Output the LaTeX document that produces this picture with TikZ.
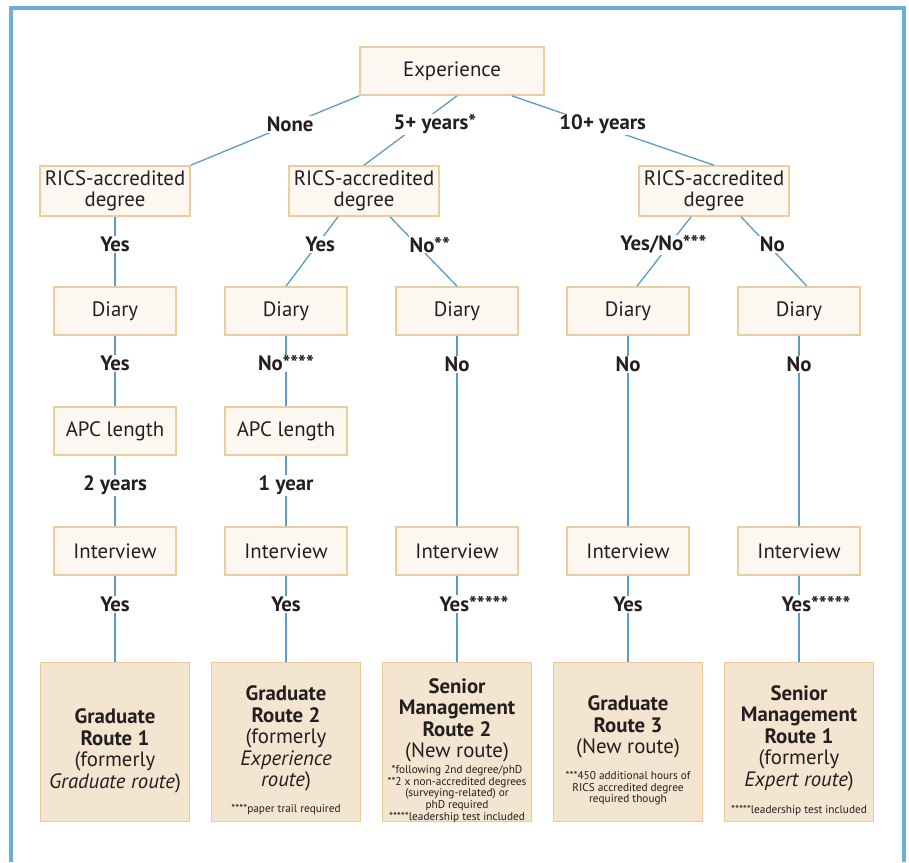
\documentclass[tikz,border=0pt]{standalone}
\usepackage{fontspec}
\setmainfont{PT Sans}
\usetikzlibrary{positioning}

\definecolor{frameblue}{HTML}{6BAED6}
\definecolor{linkblue}{HTML}{5B9CC4}
\definecolor{boxfill}{HTML}{FCF7F0}
\definecolor{boxedge}{HTML}{EACF9D}
\definecolor{routefill}{HTML}{F3E5CF}
\definecolor{routeedge}{HTML}{E9CC95}
\definecolor{ink}{HTML}{231F20}

\newcommand{\notes}[1]{{\fontsize{11.3}{11.6}\selectfont\begin{tabular}[t]{@{}c@{}}#1\end{tabular}}}

\tikzset{
  box/.style={draw=boxedge, fill=boxfill, line width=1.6pt, minimum width=122pt,
    minimum height=48pt, align=center, text=ink, font=\fontsize{20.8}{21.5}\selectfont, inner sep=2pt},
  rics/.style={box, minimum width=150pt, minimum height=50pt},
  route/.style={draw=routeedge, fill=routefill, line width=1.6pt, minimum width=149pt,
    minimum height=159pt},
  routetext/.style={align=center, text=ink, font=\fontsize{20.8}{21.5}\selectfont, inner sep=0pt},
  lab/.style={fill=white, text=ink, font=\bfseries\fontsize{20.8}{21.5}\selectfont, inner sep=1pt},
  link/.style={draw=linkblue, line width=1.3pt}
}

\begin{document}
\begin{tikzpicture}[x=1pt, y=1pt, on grid, node distance=120pt and 171pt]
\useasboundingbox (0,0) rectangle (909,-862);
% frame, open at the bottom
\draw[frameblue, line width=3.5pt] (11,-862) |- (904,-8) -- (904,-862);

% diaries
\node[box] (diary1) at (115,-311) {Diary};
\node[box] (diary2) [right=of diary1] {Diary};
\node[box] (diary3) [right=of diary2] {Diary};
\node[box] (diary4) [right=of diary3] {Diary};
\node[box] (diary5) [right=of diary4] {Diary};

% degree and experience
\node[rics] (rics1) [above=of diary1] {RICS-accredited\\degree};
\node[rics] (rics2) [above right=120pt and 78pt of diary2] {RICS-accredited\\degree};
\node[rics] (rics3) [above left=120pt and 85pt of diary5] {RICS-accredited\\degree};
\node[box, minimum width=184pt] (exp) [above right=120pt and 88pt of rics2] {Experience};

% APC length and interviews
\node[box] (apc1) [below=of diary1] {APC length};
\node[box] (apc2) [below=of diary2] {APC length};
\node[box] (int1) [below=240pt of diary1] {Interview};
\node[box] (int2) [below=240pt of diary2] {Interview};
\node[box] (int3) [below=240pt of diary3] {Interview};
\node[box] (int4) [below=240pt of diary4] {Interview};
\node[box] (int5) [below=240pt of diary5] {Interview};

% routes
\node[route] (route1) [below=191pt of int1] {};
\node[route] (route2) [below=191pt of int2] {};
\node[route] (route3) [below=191pt of int3] {};
\node[route] (route4) [below=191pt of int4] {};
\node[route] (route5) [below=191pt of int5] {};

\node[routetext] (text1) at ([yshift=-9pt]route1.center)
  {\textbf{Graduate}\\\textbf{Route 1}\\(formerly\\\textit{Graduate route})};
\node[routetext] (text2) at ([yshift=-9pt]route2.center)
  {\textbf{Graduate}\\\textbf{Route 2}\\(formerly\\\textit{Experience}\\\textit{route})\\[4.5pt]
   \notes{****paper trail required}};
\node[routetext] (text3) at ([yshift=-9pt]route3.center)
  {\textbf{Senior}\\\textbf{Management}\\\textbf{Route 2}\\(New route)\\[-5.5pt]
   \notes{*following 2nd degree/phD\\{}**2 x non-accredited degrees\\{}(surveying-related) or\\{}phD required\\{}*****leadership test included}};
\node[routetext] (text4) at ([yshift=-9pt]route4.center)
  {\textbf{Graduate}\\\textbf{Route 3}\\(New route)\\[4.5pt]
   \notes{***450 additional hours of\\{}RICS accredited degree\\{}required though}};
\node[routetext] (text5) at ([yshift=-9pt]route5.center)
  {\textbf{Senior}\\\textbf{Management}\\\textbf{Route 1}\\(formerly\\\textit{Expert route})\\[5.5pt]
   \notes{*****leadership test included}};

% experience
\path[link] (exp.south west) -- node[lab, pos=.41] (none) {None} (rics1.north east);
\path[link] ([xshift=5pt]exp.south) -- node[lab, pos=.41, xshift=16pt] (five) {5+ years*} (rics2.north);
\path[link] ([xshift=-33pt]exp.south east) -- node[lab, pos=.41, xshift=8pt] (ten) {10+ years} (rics3.north);

% degree
\path[link] (rics1) -- node[lab, pos=.4] (deg1) {Yes} (diary1);
\path[link] ([xshift=-26pt]rics2.south) -- node[lab, pos=.4, xshift=3pt] (deg2) {Yes} (diary2.north);
\path[link] ([xshift=26pt]rics2.south) -- node[lab, pos=.4, xshift=13pt] (deg3) {No**} (diary3.north);
\path[link] ([xshift=-23pt]rics3.south) -- node[lab, pos=.4, xshift=-6pt] (deg4) {Yes/No***} ([xshift=9pt]diary4.north);
\path[link] ([xshift=27pt]rics3.south) -- node[lab, pos=.4, xshift=5pt] (deg5) {No} ([xshift=8pt]diary5.north);

% diary
\path[link] (diary1) -- node[lab, pos=.39] (dia1) {Yes} (apc1);
\path[link] (diary2) -- node[lab, pos=.39] (dia2) {No****} (apc2);
\path[link] (diary3) -- node[lab, pos=.15] (dia3) {No} (int3);
\path[link] (diary4) -- node[lab, pos=.15] (dia4) {No} (int4);
\path[link] (diary5) -- node[lab, pos=.15] (dia5) {No} (int5);

% APC length
\path[link] (apc1) -- node[lab, pos=.42] (len1) {2 years} (int1);
\path[link] (apc2) -- node[lab, pos=.42] (len2) {1 year} (int2);

% interview
\path[link] (int1) -- node[lab, pos=.33] (pass1) {Yes} (route1);
\path[link] (int2) -- node[lab, pos=.33] (pass2) {Yes} (route2);
\path[link] (int3) -- node[lab, pos=.33, xshift=17pt] (pass3) {Yes*****} (route3);
\path[link] (int4) -- node[lab, pos=.33] (pass4) {Yes} (route4);
\path[link] (int5) -- node[lab, pos=.33, xshift=17pt] (pass5) {Yes*****} (route5);
\end{tikzpicture}
\end{document}
